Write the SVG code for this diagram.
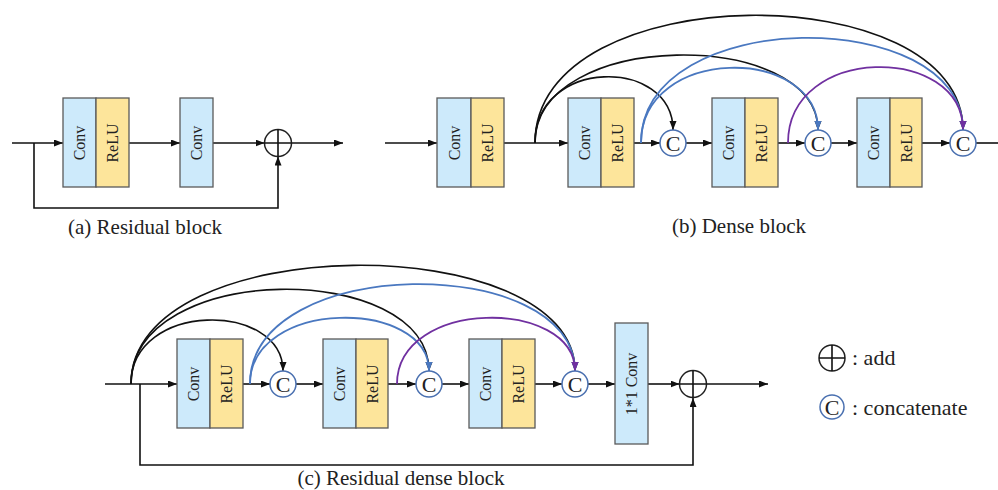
<svg xmlns="http://www.w3.org/2000/svg" width="998" height="490" viewBox="0 0 998 490">
  <defs>
    <marker id="ah" markerUnits="userSpaceOnUse" markerWidth="10" markerHeight="8" refX="9" refY="3.5" orient="auto">
      <path d="M0,0 L9,3.5 L0,7 z" fill="#111"/>
    </marker>
    <marker id="ahb" markerUnits="userSpaceOnUse" markerWidth="10" markerHeight="8" refX="9" refY="3.5" orient="auto">
      <path d="M0,0 L9,3.5 L0,7 z" fill="#4a78c0"/>
    </marker>
    <marker id="ahp" markerUnits="userSpaceOnUse" markerWidth="10" markerHeight="8" refX="9" refY="3.5" orient="auto">
      <path d="M0,0 L9,3.5 L0,7 z" fill="#7030a0"/>
    </marker>
  </defs>
  <style>
    .conv { fill: #cdeafb; stroke: #5a5a5a; stroke-width: 1.3; }
    .relu { fill: #fde59b; stroke: #5a5a5a; stroke-width: 1.3; }
    .lbl { font-family: "Liberation Serif", "Times New Roman", serif; font-size: 16px; fill: #222; text-anchor: middle; }
    .cap { font-family: "Liberation Serif", "Times New Roman", serif; font-size: 21px; fill: #222; text-anchor: middle; }
    .leg { font-family: "Liberation Serif", "Times New Roman", serif; font-size: 22px; fill: #222; }
    .ctext { font-family: "Liberation Serif", "Times New Roman", serif; font-size: 22px; fill: #222; text-anchor: middle; }
    .cc { fill: #fff; stroke: #4a70b0; stroke-width: 1.5; }
    .add { fill: #fff; stroke: #222; stroke-width: 1.5; }
    .ln { fill: none; stroke: #111; stroke-width: 1.6; }
    .lna { fill: none; stroke: #111; stroke-width: 1.6; marker-end: url(#ah); }
    .blue { fill: none; stroke: #4a78c0; stroke-width: 1.8; marker-end: url(#ahb); }
    .purp { fill: none; stroke: #7030a0; stroke-width: 1.8; marker-end: url(#ahp); }
  </style>

  <!-- connectors -->
  <g id="connectors">
    <!-- (a) residual block -->
    <path class="lna" d="M12,143 H63"/>
    <path class="lna" d="M129,143 H180"/>
    <path class="lna" d="M213,143 H264.5"/>
    <path class="lna" d="M291.5,143 H343"/>
    <path class="lna" d="M34,143 V208 H278 V156.5"/>

    <!-- (b) dense block -->
    <path class="lna" d="M385,143 H437"/>
    <path class="lna" d="M504,143 H568"/>
    <path class="lna" d="M634,143 H660"/>
    <path class="lna" d="M686,143 H712"/>
    <path class="lna" d="M778,143 H805"/>
    <path class="lna" d="M831,143 H857"/>
    <path class="lna" d="M922,143 H950"/>
    <path class="ln" d="M976,143 H998"/>
    <path class="lna" d="M535,143 C535,57 673,57 673,130"/>
    <path class="lna" d="M535,143 C535,28 818,28 818,130"/>
    <path class="lna" d="M535,143 C535,-25 963,-25 963,130"/>
    <path class="blue" d="M641,143 C641,45 818,45 818,130"/>
    <path class="blue" d="M641,143 C641,5 963,5 963,130"/>
    <path class="purp" d="M788,143 C788,44 963,44 963,130"/>

    <!-- (c) residual dense block -->
    <path class="lna" d="M105,384 H177"/>
    <path class="lna" d="M243,384 H270"/>
    <path class="lna" d="M296,384 H323"/>
    <path class="lna" d="M388,384 H416"/>
    <path class="lna" d="M442,384 H469"/>
    <path class="lna" d="M535,384 H562"/>
    <path class="lna" d="M588,384 H615"/>
    <path class="lna" d="M648,384 H679.5"/>
    <path class="lna" d="M707,384 H768"/>
    <path class="lna" d="M140,384 V465 H693 V398"/>
    <path class="lna" d="M131,384 C131,301 283,301 283,371"/>
    <path class="lna" d="M131,384 C131,260 429,260 429,371"/>
    <path class="lna" d="M131,384 C131,228 575,228 575,371"/>
    <path class="blue" d="M250,384 C250,298 429,298 429,371"/>
    <path class="blue" d="M250,384 C250,253 575,253 575,371"/>
    <path class="purp" d="M397,384 C397,298 575,298 575,371"/>
  </g>

  <!-- (a) residual block nodes -->
  <g id="a-conv-relu">
    <rect class="conv" x="63" y="98" width="33" height="89"/>
    <rect class="relu" x="96" y="98" width="33" height="89"/>
    <text class="lbl" transform="translate(79.5,143) rotate(-90)" dy="5.5">Conv</text>
    <text class="lbl" transform="translate(112.5,143) rotate(-90)" dy="5.5">ReLU</text>
  </g>
  <g id="a-conv">
    <rect class="conv" x="180" y="98" width="33" height="89"/>
    <text class="lbl" transform="translate(196.5,143) rotate(-90)" dy="5.5">Conv</text>
  </g>
  <g id="a-add">
    <circle class="add" cx="278" cy="143" r="13.5"/>
    <path class="ln" d="M264.5,143 H291.5 M278,129.5 V156.5" stroke-width="1.2"/>
  </g>
  <text class="cap" x="145" y="234">(a) Residual block</text>

  <!-- (b) dense block nodes -->
  <g id="b-block1">
    <rect class="conv" x="437" y="98" width="34" height="89"/>
    <rect class="relu" x="471" y="98" width="33" height="89"/>
    <text class="lbl" transform="translate(454,143) rotate(-90)" dy="5.5">Conv</text>
    <text class="lbl" transform="translate(487.5,143) rotate(-90)" dy="5.5">ReLU</text>
  </g>
  <g id="b-block2">
    <rect class="conv" x="568" y="98" width="33" height="89"/>
    <rect class="relu" x="601" y="98" width="33" height="89"/>
    <text class="lbl" transform="translate(584.5,143) rotate(-90)" dy="5.5">Conv</text>
    <text class="lbl" transform="translate(617.5,143) rotate(-90)" dy="5.5">ReLU</text>
  </g>
  <g id="b-cat1">
    <circle class="cc" cx="673" cy="143" r="13"/>
    <text class="ctext" x="673" y="150.5">C</text>
  </g>
  <g id="b-block3">
    <rect class="conv" x="712" y="98" width="33" height="89"/>
    <rect class="relu" x="745" y="98" width="33" height="89"/>
    <text class="lbl" transform="translate(728.5,143) rotate(-90)" dy="5.5">Conv</text>
    <text class="lbl" transform="translate(761.5,143) rotate(-90)" dy="5.5">ReLU</text>
  </g>
  <g id="b-cat2">
    <circle class="cc" cx="818" cy="143" r="13"/>
    <text class="ctext" x="818" y="150.5">C</text>
  </g>
  <g id="b-block4">
    <rect class="conv" x="857" y="98" width="33" height="89"/>
    <rect class="relu" x="890" y="98" width="32" height="89"/>
    <text class="lbl" transform="translate(873.5,143) rotate(-90)" dy="5.5">Conv</text>
    <text class="lbl" transform="translate(906,143) rotate(-90)" dy="5.5">ReLU</text>
  </g>
  <g id="b-cat3">
    <circle class="cc" cx="963" cy="143" r="13"/>
    <text class="ctext" x="963" y="150.5">C</text>
  </g>
  <text class="cap" x="739" y="233">(b) Dense block</text>

  <!-- (c) residual dense block nodes -->
  <g id="c-block1">
    <rect class="conv" x="177" y="339" width="33" height="89"/>
    <rect class="relu" x="210" y="339" width="33" height="89"/>
    <text class="lbl" transform="translate(193.5,384) rotate(-90)" dy="5.5">Conv</text>
    <text class="lbl" transform="translate(226.5,384) rotate(-90)" dy="5.5">ReLU</text>
  </g>
  <g id="c-cat1">
    <circle class="cc" cx="283" cy="384" r="13"/>
    <text class="ctext" x="283" y="391.5">C</text>
  </g>
  <g id="c-block2">
    <rect class="conv" x="323" y="339" width="33" height="89"/>
    <rect class="relu" x="356" y="339" width="32" height="89"/>
    <text class="lbl" transform="translate(339.5,384) rotate(-90)" dy="5.5">Conv</text>
    <text class="lbl" transform="translate(372,384) rotate(-90)" dy="5.5">ReLU</text>
  </g>
  <g id="c-cat2">
    <circle class="cc" cx="429" cy="384" r="13"/>
    <text class="ctext" x="429" y="391.5">C</text>
  </g>
  <g id="c-block3">
    <rect class="conv" x="469" y="339" width="33" height="89"/>
    <rect class="relu" x="502" y="339" width="33" height="89"/>
    <text class="lbl" transform="translate(485.5,384) rotate(-90)" dy="5.5">Conv</text>
    <text class="lbl" transform="translate(518.5,384) rotate(-90)" dy="5.5">ReLU</text>
  </g>
  <g id="c-cat3">
    <circle class="cc" cx="575" cy="384" r="13"/>
    <text class="ctext" x="575" y="391.5">C</text>
  </g>
  <g id="c-conv1x1">
    <rect class="conv" x="615" y="323" width="33" height="121"/>
    <text class="lbl" transform="translate(631.5,384) rotate(-90)" dy="5.5">1*1 Conv</text>
  </g>
  <g id="c-add">
    <circle class="add" cx="693" cy="384" r="13.5"/>
    <path class="ln" d="M679.5,384 H706.5 M693,370.5 V397.5" stroke-width="1.2"/>
  </g>
  <text class="cap" x="401" y="485">(c) Residual dense block</text>

  <!-- legend -->
  <g id="legend-add">
    <circle class="add" cx="832" cy="358" r="13"/>
    <path class="ln" d="M819,358 H845 M832,345 V371" stroke-width="1.2"/>
    <text class="leg" x="852" y="365">: add</text>
  </g>
  <g id="legend-cat">
    <circle class="cc" cx="832" cy="407" r="12"/>
    <text class="ctext" x="832" y="414.5">C</text>
    <text class="leg" x="852" y="415">: concatenate</text>
  </g>
</svg>
